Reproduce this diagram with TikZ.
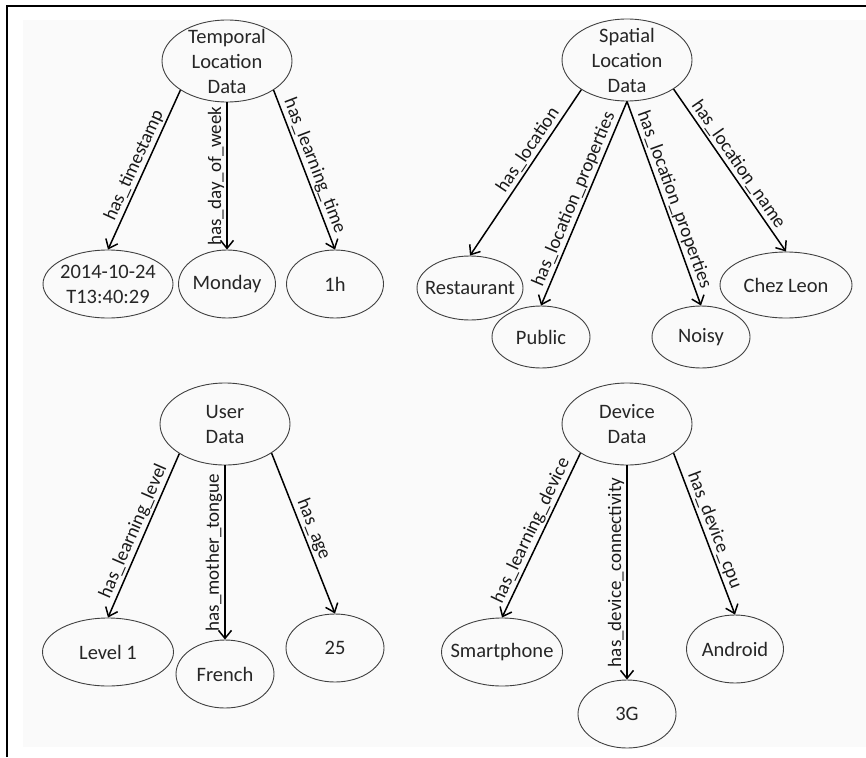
\documentclass[tikz,border=0pt]{standalone}
\usepackage{fontspec}
\setmainfont{Carlito}
\usetikzlibrary{shapes.geometric, arrows.meta, positioning}

\begin{document}
\begin{tikzpicture}[x=1pt, y=-1pt,
      >={Straight Barb[length=8pt, width=13pt]},
      datanode/.style={ellipse, draw=black!75, line width=0.9pt, text=black!85, inner xsep=-10pt, inner ysep=-10pt, align=center, font=\fontsize{20.5}{25}\selectfont, minimum width=130pt, minimum height=82pt},
      valuenode/.style={ellipse, draw=black!75, line width=0.9pt, text=black!85, inner xsep=-10pt, inner ysep=-6pt, align=center, font=\fontsize{20.5}{25}\selectfont, minimum width=98pt, minimum height=68pt},
      haslink/.style={line width=1.5pt},
      haslabel/.style={midway, sloped, above, inner sep=2pt, text=black!90, font=\fontsize{19}{21}\selectfont},
      ]
      \useasboundingbox (0,0) rectangle (866,757);
      \fill[black!2] (23,20) rectangle (866,747);
      \draw[line width=1.2pt] (7,757) -- (7,6) -- (866,6);

      %Nodes
      \node[datanode]                         (temporal)   at (227,61)  {Temporal\\Location\\Data};
      \node[valuenode, minimum width=130pt]   (timestamp)  at (108,284) {2014-10-24\\T13:40:29};
      \node[valuenode, minimum width=97pt]    (monday)     at (227,284) {Monday};
      \node[valuenode, minimum width=97pt]    (learntime)  at (335,284) {1h};

      \node[datanode]                         (spatial)    at (627,60)  {Spatial\\Location\\Data};
      \node[valuenode, minimum width=106pt, minimum height=64pt] (restaurant) at (470,288) {Restaurant};
      \node[valuenode, minimum height=62pt]   (public)     at (541,337) {Public};
      \node[valuenode, minimum height=62pt]   (noisy)      at (701,337) {Noisy};
      \node[valuenode, minimum width=132pt, minimum height=66pt] (chezleon) at (786,285) {Chez Leon};

      \node[datanode]                         (user)       at (225,424) {User\\Data};
      \node[valuenode, minimum width=131pt]   (level)      at (108,652) {Level 1};
      \node[valuenode]                        (french)     at (225,674) {French};
      \node[valuenode]                        (age)        at (335,648) {25};

      \node[datanode]                         (device)     at (627,424) {Device\\Data};
      \node[valuenode, minimum width=121pt]   (smartphone) at (502,652) {Smartphone};
      \node[valuenode]                        (threeg)     at (627,714) {3G};
      \node[valuenode, minimum width=97pt]    (android)    at (735,649) {Android};

      %Lines
      \draw[->, haslink] (temporal.212) -- (timestamp.north) node[haslabel] {has\_timestamp};
      \draw[<-, haslink] (monday.north) -- (temporal.south) node[haslabel] {has\_day\_of\_week};
      \draw[->, haslink] (temporal.328) -- (learntime.north) node[haslabel] {has\_learning\_time};

      \draw[->, haslink] (spatial.213) -- (restaurant.north) node[haslabel, pos=0.4] {has\_location};
      \draw[->, haslink] (spatial.south) -- (public.north) node[haslabel] {has\_location\_properties};
      \draw[->, haslink] (spatial.south) -- (noisy.north) node[haslabel] {has\_location\_properties};
      \draw[->, haslink] (spatial.328) -- (chezleon.north) node[haslabel] {has\_location\_name};

      \draw[->, haslink] (user.213) -- (level.north) node[haslabel] {has\_learning\_level};
      \draw[<-, haslink] (french.north) -- (user.south) node[haslabel] {has\_mother\_tongue};
      \draw[->, haslink] (user.328) -- (age.north) node[haslabel] {has\_age};

      \draw[->, haslink] (device.212) -- (smartphone.north) node[haslabel] {has\_learning\_device};
      \draw[<-, haslink] (threeg.north) -- (device.south) node[haslabel] {has\_device\_connectivity};
      \draw[->, haslink] (device.328) -- (android.north) node[haslabel] {has\_device\_cpu};
    \end{tikzpicture}
\end{document}
